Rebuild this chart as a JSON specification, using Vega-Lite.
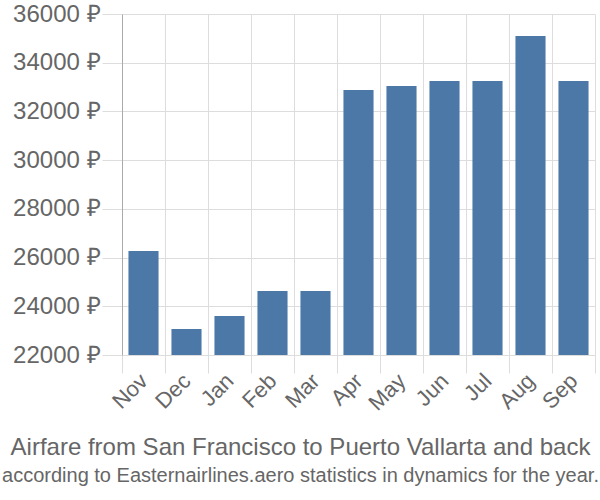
{
  "$schema": "https://vega.github.io/schema/vega-lite/v6.json",
  "width": 473,
  "height": 341,
  "autosize": "none",
  "padding": {"left": 122, "top": 14, "right": 5, "bottom": 145},
  "background": "white",
  "data": {"values": [
    {"month": "Nov", "price": 26270},
    {"month": "Dec", "price": 23070},
    {"month": "Jan", "price": 23600},
    {"month": "Feb", "price": 24630},
    {"month": "Mar", "price": 24630},
    {"month": "Apr", "price": 32880},
    {"month": "May", "price": 33040},
    {"month": "Jun", "price": 33250},
    {"month": "Jul", "price": 33250},
    {"month": "Aug", "price": 35100},
    {"month": "Sep", "price": 33250}
  ]},
  "title": {
    "text": "Airfare from San Francisco to Puerto Vallarta and back",
    "subtitle": "according to Easternairlines.aero statistics in dynamics for the year.",
    "orient": "bottom",
    "anchor": "middle",
    "dx": -58,
    "offset": 22,
    "font": "Liberation Sans",
    "fontSize": 24,
    "fontWeight": "normal",
    "color": "#666666",
    "subtitleFont": "Liberation Sans",
    "subtitleFontSize": 20,
    "subtitleColor": "#666666",
    "subtitlePadding": 6
  },
  "config": {"view": {"stroke": null}},
  "mark": {"type": "bar", "color": "#4c78a8", "width": {"band": 0.7}, "clip": true},
  "encoding": {
    "x": {
      "field": "month", "type": "nominal", "sort": null,
      "scale": {"paddingInner": 0, "paddingOuter": 0},
      "axis": {
        "title": null, "labelAngle": -45, "tickBand": "extent",
        "labelFont": "Liberation Sans", "labelFontSize": 22, "labelColor": "#666666",
        "labelBaseline": "middle", "labelAlign": "right",
        "tickSize": 18, "tickColor": "#dddddd", "gridColor": "#dddddd", "grid": true,
        "domainColor": "#dddddd", "labelPadding": 4
      }
    },
    "y": {
      "field": "price", "type": "quantitative",
      "scale": {"domain": [22000, 36000], "nice": false, "zero": false},
      "axis": {
        "title": null, "values": [22000, 24000, 26000, 28000, 30000, 32000, 34000, 36000],
        "labelExpr": "datum.value + ' ₽'",
        "labelFont": "Liberation Sans", "labelFontSize": 24, "labelColor": "#666666",
        "tickSize": 20, "tickColor": "#dddddd", "gridColor": "#dddddd",
        "domainColor": "#aaaaaa", "labelPadding": 2
      }
    }
  }
}
